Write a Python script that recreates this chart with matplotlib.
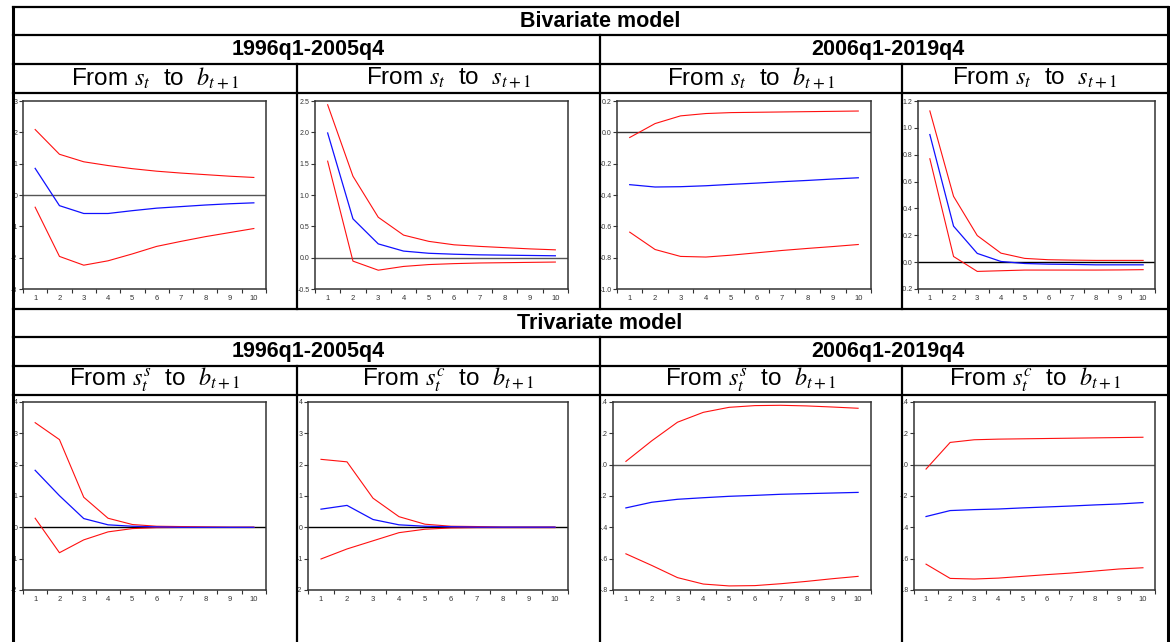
import matplotlib
matplotlib.use("Agg")
import matplotlib.pyplot as plt
from matplotlib.lines import Line2D
from matplotlib.ticker import FixedLocator, FixedFormatter, NullFormatter

plt.rcParams['font.family'] = ['Liberation Sans', 'DejaVu Sans']
plt.rcParams['mathtext.fontset'] = 'stix'

# ---------------- data ----------------
horizon = [1, 2, 3, 4, 5, 6, 7, 8, 9, 10]

# Bivariate 1996q1-2005q4, from s_t to b_{t+1}
p1_upper = [2.09, 1.30, 1.06, 0.94, 0.84, 0.76, 0.70, 0.65, 0.60, 0.56]
p1_irf   = [0.85, -0.34, -0.59, -0.59, -0.50, -0.42, -0.37, -0.32, -0.28, -0.25]
p1_lower = [-0.39, -1.96, -2.24, -2.10, -1.88, -1.64, -1.48, -1.33, -1.20, -1.07]

# Bivariate 1996q1-2005q4, from s_t to s_{t+1}
p2_upper = [2.44, 1.30, 0.645, 0.36, 0.26, 0.205, 0.18, 0.16, 0.14, 0.125]
p2_irf   = [1.99, 0.62, 0.22, 0.105, 0.07, 0.055, 0.045, 0.04, 0.035, 0.03]
p2_lower = [1.54, -0.055, -0.20, -0.14, -0.11, -0.095, -0.085, -0.08, -0.075, -0.07]

# Bivariate 2006q1-2019q4, from s_t to b_{t+1}
p3_upper = [-0.033, 0.056, 0.105, 0.12, 0.126, 0.128, 0.13, 0.132, 0.134, 0.136]
p3_irf   = [-0.334, -0.349, -0.347, -0.341, -0.332, -0.324, -0.315, -0.307, -0.298, -0.29]
p3_lower = [-0.637, -0.748, -0.792, -0.796, -0.784, -0.769, -0.754, -0.741, -0.729, -0.716]

# Bivariate 2006q1-2019q4, from s_t to s_{t+1}
p4_upper = [1.126, 0.49, 0.198, 0.067, 0.028, 0.018, 0.015, 0.013, 0.013, 0.013]
p4_irf   = [0.95, 0.268, 0.065, 0.005, -0.01, -0.015, -0.017, -0.02, -0.02, -0.02]
p4_lower = [0.77, 0.042, -0.069, -0.064, -0.059, -0.059, -0.059, -0.059, -0.058, -0.056]

# Trivariate 1996q1-2005q4, from s^s_t to b_{t+1}
p5_upper = [3.34, 2.80, 0.96, 0.29, 0.09, 0.035, 0.025, 0.015, 0.005, 0.005]
p5_irf   = [1.82, 1.01, 0.28, 0.08, 0.035, 0.015, 0.0, 0.0, 0.0, 0.0]
p5_lower = [0.29, -0.81, -0.40, -0.145, -0.04, -0.01, -0.005, -0.005, -0.005, -0.005]

# Trivariate 1996q1-2005q4, from s^c_t to b_{t+1}
p6_upper = [2.17, 2.09, 0.93, 0.34, 0.10, 0.035, 0.025, 0.01, 0.01, 0.01]
p6_irf   = [0.58, 0.70, 0.25, 0.08, 0.035, 0.02, 0.005, 0.005, 0.005, 0.005]
p6_lower = [-1.01, -0.69, -0.43, -0.17, -0.06, -0.02, -0.01, -0.01, -0.01, -0.01]

# Trivariate 2006q1-2019q4, from s^s_t to b_{t+1}
p7_upper = [0.021, 0.152, 0.271, 0.334, 0.366, 0.377, 0.379, 0.375, 0.368, 0.36]
p7_irf   = [-0.276, -0.240, -0.221, -0.211, -0.202, -0.196, -0.189, -0.185, -0.181, -0.177]
p7_lower = [-0.569, -0.643, -0.721, -0.762, -0.774, -0.772, -0.76, -0.745, -0.728, -0.713]

# Trivariate 2006q1-2019q4, from s^c_t to b_{t+1}
p8_upper = [-0.028, 0.142, 0.159, 0.163, 0.165, 0.167, 0.169, 0.171, 0.173, 0.175]
p8_irf   = [-0.331, -0.293, -0.287, -0.283, -0.276, -0.27, -0.264, -0.257, -0.251, -0.242]
p8_lower = [-0.635, -0.726, -0.73, -0.724, -0.713, -0.702, -0.692, -0.679, -0.666, -0.658]

yt1 = [3, 2, 1, 0, -1, -2, -3]
yl1 = ["3", "2", "1", "0", "-1", "-2", "-3"]
yt2 = [2.5, 2.0, 1.5, 1.0, 0.5, 0.0, -0.5]
yl2 = ["2.5", "2.0", "1.5", "1.0", "0.5", "0.0", "-0.5"]
yt3 = [0.2, 0.0, -0.2, -0.4, -0.6, -0.8, -1.0]
yl3 = ["0.2", "0.0", "-0.2", "-0.4", "-0.6", "-0.8", "-1.0"]
yt4 = [1.2, 1.0, 0.8, 0.6, 0.4, 0.2, 0.0, -0.2]
yl4 = ["1.2", "1.0", "0.8", "0.6", "0.4", "0.2", "0.0", "-0.2"]
yt5 = [4, 3, 2, 1, 0, -1, -2]
yl5 = ["4", "3", "2", "1", "0", "-1", "-2"]
yt7 = [0.4, 0.2, 0.0, -0.2, -0.4, -0.6, -0.8]
yl7 = [".4", ".2", ".0", "-.2", "-.4", "-.6", "-.8"]

model_titles = ["Bivariate model", "Trivariate model"]
period_titles = ["1996q1-2005q4", "2006q1-2019q4"]
biv_titles = [r"From $s_t$  to  $b_{t+1}$", r"From $s_t$  to  $s_{t+1}$"]
triv_titles = [r"From $s_t^s$  to  $b_{t+1}$", r"From $s_t^c$  to  $b_{t+1}$"]

# ---------------- layout ----------------
W, H = 1170, 642
fig = plt.figure(figsize=(W / 100, H / 100), dpi=100)
fig.patch.set_facecolor("white")


def fx(x):
    return x / W


def fy(y):
    return 1 - y / H


def hline(x0, x1, y, lw=1.6):
    fig.add_artist(Line2D([fx(x0), fx(x1)], [fy(y), fy(y)], transform=fig.transFigure,
                          color="black", lw=lw, solid_capstyle="projecting"))


def vline(x, y0, y1, lw=1.6):
    fig.add_artist(Line2D([fx(x), fx(x)], [fy(y0), fy(y1)], transform=fig.transFigure,
                          color="black", lw=lw, solid_capstyle="projecting"))


L, R = 13, 1168
cols = [L, 297, 600, 902, R]

for y0 in (7, 309):
    hline(L, R, y0)
    hline(L, R, y0 + 28)
    hline(L, R, y0 + 57)
    hline(L, R, y0 + 86)
    vline(600, y0 + 28, y0 + 86 + (216 if y0 == 7 else 260))
    for c in (297, 902):
        vline(c, y0 + 57, y0 + 86 + (216 if y0 == 7 else 260))
vline(L, 7, 650, lw=2.2)
vline(R, 7, 650, lw=2.2)

for k, y0 in enumerate((7, 309)):
    fig.text(fx(600), fy(y0 + 14.5), model_titles[k], ha="center", va="center",
             fontsize=15.5, fontweight="bold")
    fig.text(fx((L + 600) / 2 + 2), fy(y0 + 43), period_titles[0], ha="center", va="center",
             fontsize=15.5, fontweight="bold")
    fig.text(fx((600 + R) / 2 + 4), fy(y0 + 43), period_titles[1], ha="center", va="center",
             fontsize=15.5, fontweight="bold")
    titles = biv_titles if k == 0 else triv_titles
    for j in range(4):
        cx = (cols[j] + cols[j + 1]) / 2
        fig.text(fx(cx), fy(y0 + 71), titles[j % 2], ha="center", va="center",
                 fontsize=17.5)

panels = [
    (p1_upper, p1_irf, p1_lower, yt1, yl1, (23, 266, 101, 289), "#555555"),
    (p2_upper, p2_irf, p2_lower, yt2, yl2, (315, 568, 101, 289), "#555555"),
    (p3_upper, p3_irf, p3_lower, yt3, yl3, (617, 871, 101, 289), "#333333"),
    (p4_upper, p4_irf, p4_lower, yt4, yl4, (918, 1155, 101, 289), "#000000"),
    (p5_upper, p5_irf, p5_lower, yt5, yl5, (23, 266, 402, 590), "#000000"),
    (p6_upper, p6_irf, p6_lower, yt5, yl5, (308, 568, 402, 590), "#000000"),
    (p7_upper, p7_irf, p7_lower, yt7, yl7, (613, 871, 402, 590), "#555555"),
    (p8_upper, p8_irf, p8_lower, yt7, yl7, (914, 1155, 402, 590), "#555555"),
]

for up, irf, lo, yt, yl, (x0, x1, t, b), zc in panels:
    ax = fig.add_axes([fx(x0), fy(b), (x1 - x0) / W, (b - t) / H])
    ax.axhline(0, color=zc, lw=1.0, zorder=1)
    ax.plot(horizon, up, color="#ff1010", lw=0.8, zorder=2)
    ax.plot(horizon, lo, color="#ff1010", lw=0.8, zorder=2)
    ax.plot(horizon, irf, color="#1010ff", lw=0.9, zorder=3)
    ax.set_xlim(0.5, 10.5)
    ax.set_ylim(min(yt), max(yt))
    ax.xaxis.set_major_locator(FixedLocator([i + 0.5 for i in range(0, 11)]))
    ax.xaxis.set_major_formatter(NullFormatter())
    ax.xaxis.set_minor_locator(FixedLocator(horizon))
    ax.xaxis.set_minor_formatter(FixedFormatter([str(h) for h in horizon]))
    ax.tick_params(axis="x", which="major", direction="out", length=3, width=0.8,
                   color="#333333")
    ax.tick_params(axis="x", which="minor", length=0, pad=4, labelsize=5.5,
                   labelcolor="#333333")
    ax.yaxis.set_major_locator(FixedLocator(yt))
    ax.yaxis.set_major_formatter(FixedFormatter(yl))
    ax.tick_params(axis="y", direction="out", length=3, width=0.8, color="#333333",
                   pad=1, labelsize=5, labelcolor="#333333")
    for s in ax.spines.values():
        s.set_color("#333333")
        s.set_linewidth(1.1)

fig.savefig("out.png", dpi=100, facecolor="white")
